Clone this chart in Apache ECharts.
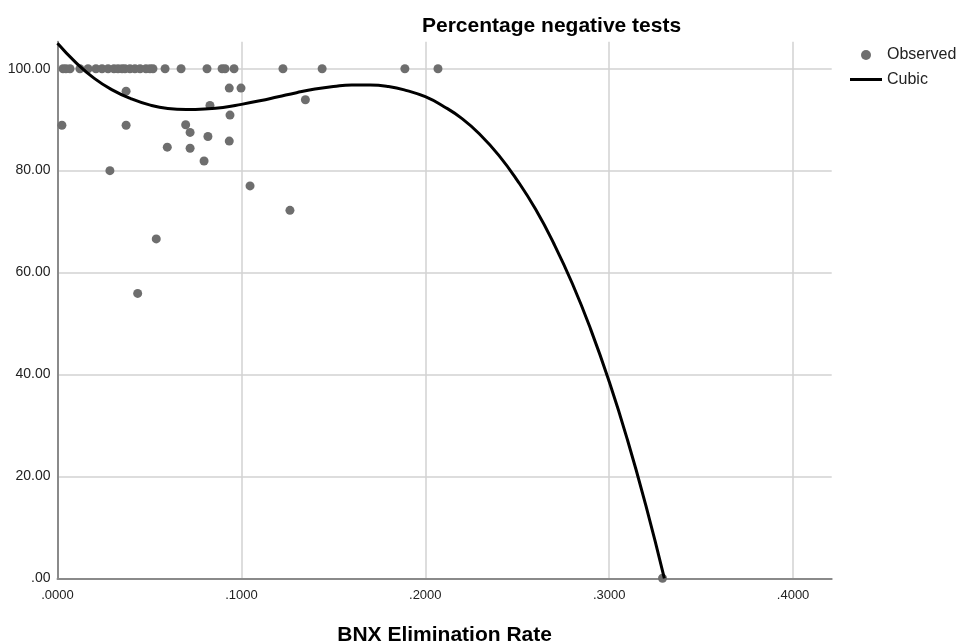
<!DOCTYPE html>
<html>
<head>
<meta charset="utf-8">
<script src="https://cdn.jsdelivr.net/npm/echarts@6/dist/echarts.min.js"></script>
<style>
  html, body { margin: 0; padding: 0; background: #fff; }
  #chart { width: 956px; height: 642px; }
</style>
</head>
<body>
<div id="chart"></div>
<script>
// observed points: [elimination rate, % negative tests]
const observedX = [
  0.0030, 0.0046, 0.0068, 0.0122, 0.0166, 0.0209, 0.0242, 0.0275, 0.0307, 0.0329,
  0.0351, 0.0367, 0.0394, 0.0421, 0.0449, 0.0481, 0.0503, 0.0519, 0.0585, 0.0672,
  0.0813, 0.0895, 0.0911, 0.0960, 0.1226, 0.1439, 0.1889, 0.2069,
  0.0373, 0.0024, 0.0373, 0.0285, 0.0934, 0.0998, 0.0829, 0.1348, 0.0938, 0.0697,
  0.0721, 0.0818, 0.0934, 0.0597, 0.0721, 0.0797, 0.1047, 0.1264, 0.0537, 0.0436,
  0.3290
];
const observedY = [
  100, 100, 100, 100, 100, 100, 100, 100, 100, 100,
  100, 100, 100, 100, 100, 100, 100, 100, 100, 100,
  100, 100, 100, 100, 100, 100, 100, 100,
  95.6, 88.9, 88.9, 80.0, 96.2, 96.2, 92.8, 93.9, 90.9, 89.0,
  87.5, 86.7, 85.8, 84.6, 84.4, 81.9, 77.0, 72.2, 66.6, 55.9,
  0
];

// cubic fit line
const cubicX = [0.00, 0.01, 0.02, 0.03, 0.04, 0.05, 0.06, 0.07, 0.08, 0.09, 0.10,
  0.11, 0.12, 0.13, 0.14, 0.15, 0.16, 0.17, 0.18, 0.19, 0.20, 0.21, 0.22,
  0.23, 0.24, 0.25, 0.26, 0.27, 0.28, 0.29, 0.30, 0.31, 0.32, 0.33];
const cubicY = [105.0, 101.2, 98.1, 95.8, 94.1, 92.9, 92.2, 92.0, 92.1, 92.4, 93.0,
  93.7, 94.5, 95.3, 96.0, 96.5, 96.8, 96.8, 96.5, 95.7, 94.5, 92.6, 90.2,
  87.0, 83.0, 78.1, 72.4, 65.6, 57.8, 48.8, 38.6, 27.1, 14.2, 0.0];

const FONT = 'Liberation Sans, Arial, sans-serif';

const chart = echarts.init(document.getElementById('chart'));

chart.setOption({
  animation: false,
  backgroundColor: '#fff',
  title: {
    text: 'Percentage negative tests',
    left: 422,
    top: 16,
    padding: 0,
    textStyle: { fontFamily: FONT, fontSize: 21, fontWeight: 'bold', color: '#000' }
  },
  legend: {
    orient: 'vertical',
    left: 850,
    top: 47,
    padding: 0,
    itemWidth: 32,
    itemHeight: 10,
    itemGap: 8.5,
    textStyle: { fontFamily: FONT, fontSize: 16, color: '#222' },
    data: [
      { name: 'Observed' },
      // plain line, no marker in the middle
      { name: 'Cubic', icon: 'path://M0,0L32,0L32,3L0,3Z' }
    ]
  },
  grid: { left: 57.5, right: 124.3, top: 41.7, bottom: 63.7, containLabel: false, outerBoundsMode: 'none' },
  xAxis: {
    type: 'value',
    min: 0,
    max: 0.421,
    interval: 0.1,
    name: 'BNX Elimination Rate',
    nameLocation: 'middle',
    nameGap: 46,
    nameTextStyle: { fontFamily: FONT, fontSize: 21, fontWeight: 'bold', color: '#000' },
    axisLine: { lineStyle: { color: '#8a8a8a', width: 2 } },
    axisTick: { show: false },
    axisLabel: {
      fontFamily: FONT, fontSize: 13, color: '#222', margin: 11,
      showMaxLabel: false,
      formatter: v => v.toFixed(4).replace(/^0/, '')
    },
    splitLine: { show: true, showMinLine: false, showMaxLine: false, lineStyle: { color: '#d2d2d2', width: 1.5 } }
  },
  yAxis: {
    type: 'value',
    min: 0,
    max: 105.3,
    interval: 20,
    axisLine: { show: true, lineStyle: { color: '#8a8a8a', width: 2 } },
    axisTick: { show: false },
    axisLabel: {
      fontFamily: FONT, fontSize: 14, color: '#222', margin: 7,
      showMaxLabel: false,
      formatter: v => v.toFixed(2).replace(/^0/, '')
    },
    splitLine: { show: true, showMinLine: false, showMaxLine: false, lineStyle: { color: '#d2d2d2', width: 1.5 } }
  },
  series: [
    {
      name: 'Observed',
      type: 'scatter',
      symbol: 'circle',
      symbolSize: 9,
      itemStyle: { color: '#6e6e6e', opacity: 1 },
      data: observedX.map((x, i) => [x, observedY[i]]),
      z: 2
    },
    {
      name: 'Cubic',
      type: 'line',
      smooth: true,
      showSymbol: false,
      symbol: 'none',
      lineStyle: { color: '#000', width: 3 },
      itemStyle: { color: '#000' },
      data: cubicX.map((x, i) => [x, cubicY[i]]),
      z: 3
    }
  ]
});
</script>
</body>
</html>
